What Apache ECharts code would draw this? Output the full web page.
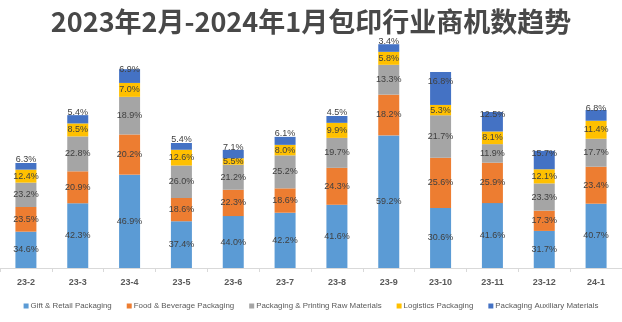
<!DOCTYPE html>
<html><head><meta charset="utf-8">
<script src="https://cdn.jsdelivr.net/npm/echarts@6/dist/echarts.min.js"></script>
<style>html,body{margin:0;padding:0;background:#fff}#c{width:622px;height:322px}</style>
</head><body><div id="c"></div>
<script>
const categories = ['23-2','23-3','23-4','23-5','23-6','23-7','23-8','23-9','23-10','23-11','23-12','24-1'];
const seriesNames = ['Gift & Retail Packaging','Food & Beverage Packaging','Packaging & Printing Raw Materials','Logistics Packaging','Packaging Auxiliary Materials'];
// monthly totals (relative)
const totals = [105, 153, 199, 125, 118, 131, 152, 224, 196, 156, 117, 158];
// share of each segment in percent (as labelled)
const giftPct = [34.6, 42.3, 46.9, 37.4, 44.0, 42.2, 41.6, 59.2, 30.6, 41.6, 31.7, 40.7];
const foodPct = [23.5, 20.9, 20.2, 18.6, 22.3, 18.6, 24.3, 18.2, 25.6, 25.9, 17.3, 23.4];
const rawPct  = [23.2, 22.8, 18.9, 26.0, 21.2, 25.2, 19.7, 13.3, 21.7, 11.9, 23.3, 17.7];
const logiPct = [12.4, 8.5, 7.0, 12.6, 5.5, 8.0, 9.9, 5.8, 5.3, 8.1, 12.1, 11.4];
const auxPct  = [6.3, 5.4, 6.9, 5.4, 7.1, 6.1, 4.5, 3.4, 16.8, 12.5, 15.7, 6.8];

const pctSets = [giftPct, foodPct, rawPct, logiPct, auxPct];
const colors = ['#5B9BD5','#ED7D31','#A5A5A5','#FFC000','#4472C4'];

const chart = echarts.init(document.getElementById('c'), null, {renderer:'canvas'});
const series = pctSets.map((p, si) => ({
  name: seriesNames[si],
  type: 'bar',
  stack: 'total',
  barWidth: 21,
  itemStyle: {color: colors[si]},
  label: {
    show: true,
    position: 'inside',
    offset: si === 4 ? [0, -7] : [0, 0],
    color: '#404040',
    fontSize: 9,
    fontFamily: 'Liberation Sans, Arial, sans-serif',
    formatter: (params) => p[params.dataIndex].toFixed(1) + '%'
  },
  data: p.map((v, i) => totals[i] * v / 100)
}));

chart.setOption({
  animation: false,
  backgroundColor: '#ffffff',
  title: {
    text: '2023年2月-2024年1月包印行业商机数趋势',
    left: 'center',
    top: 3,
    textStyle: {fontSize: 27, fontWeight: 'bold', color: '#484848', fontFamily: 'Noto Sans CJK SC, sans-serif'}
  },
  legend: {
    bottom: 7,
    left: 'center',
    itemWidth: 5,
    itemHeight: 5,
    itemGap: 15,
    icon: 'rect',
    textStyle: {fontSize: 7.9, color: '#595959', fontFamily: 'Liberation Sans, Arial, sans-serif', padding: [0,0,0,-3]},
    data: seriesNames
  },
  grid: {left: -7, right: -8, top: 38, bottom: 54},
  xAxis: {
    type: 'category',
    data: categories,
    axisLine: {lineStyle: {color: '#D9D9D9'}},
    axisTick: {show: true, length: 4, lineStyle: {color: '#D9D9D9'}},
    axisLabel: {color: '#595959', fontSize: 9, fontWeight: 'bold', margin: 10, fontFamily: 'Liberation Sans, Arial, sans-serif'}
  },
  yAxis: {
    type: 'value', min: 0, max: 230, show: false,
    splitLine: {show: false}
  },
  series: series
});
</script>
</body></html>
